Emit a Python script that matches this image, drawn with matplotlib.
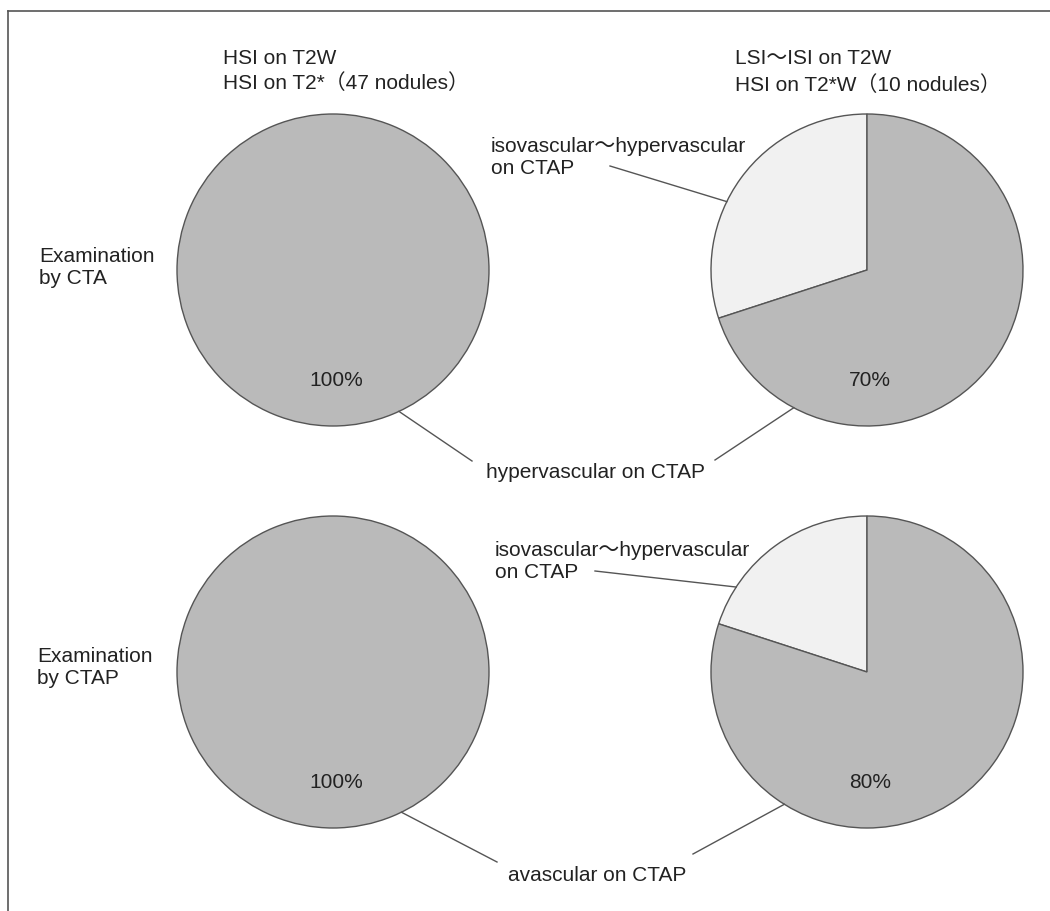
import numpy as np
import matplotlib
matplotlib.use("Agg")
import matplotlib.pyplot as plt

plt.rcParams['font.family'] = ['Liberation Sans', 'Noto Sans CJK JP', 'DejaVu Sans']

# data
group_titles = ["HSI on T2W\nHSI on T2*（47 nodules）",
                "LSI～ISI on T2W\nHSI on T2*W（10 nodules）"]
row_titles = ["Examination\nby CTA", "Examination\nby CTAP"]
cta_iso = [0, 30]          # isovascular~hypervascular on CTAP
cta_main = [100, 70]       # hypervascular on CTAP
ctap_iso = [0, 20]         # isovascular~hypervascular on CTAP
ctap_main = [100, 80]      # avascular on CTAP
iso_label = "isovascular～hypervascular\non CTAP"
main_labels = ["hypervascular on CTAP", "avascular on CTAP"]

W, H = 1050, 912
DARK = "#bababa"
LIGHT = "#f1f1f1"
EDGE = "#555555"
TXT = "#222222"
FS = 15

fig = plt.figure(figsize=(W / 100, H / 100), dpi=100)
ax = fig.add_axes([0, 0, 1, 1])


def Y(y):
    return H - y


col_x = [333, 867]
row_y = [271, 673]
R = 156


def edge_pt(cx, cy, ang):
    a = np.deg2rad(ang)
    return cx + R * np.cos(a), Y(cy) + R * np.sin(a)


rows = [(cta_iso, cta_main), (ctap_iso, ctap_main)]
for ri, (iso_vals, main_vals) in enumerate(rows):
    for ci in range(2):
        vals = [iso_vals[ci], main_vals[ci]]
        cols = [LIGHT, DARK]
        keep = [i for i, v in enumerate(vals) if v > 0]
        ax.pie([vals[i] for i in keep], colors=[cols[i] for i in keep],
               startangle=90, counterclock=True,
               center=(col_x[ci], Y(row_y[ri])), radius=R,
               wedgeprops=dict(edgecolor=EDGE, linewidth=1.0))
        ax.text(col_x[ci] + 3, Y(row_y[ri]) - 0.7 * R, f"{main_vals[ci]}%",
                ha='center', va='center', fontsize=FS, color=TXT)

# pie() resets the limits, so fix them afterwards
ax.set_xlim(0, W)
ax.set_ylim(0, H)
ax.set_aspect('equal')
ax.axis('off')

# frame
ax.plot([8, W], [Y(12), Y(12)], color=EDGE, lw=1.2, clip_on=False)
ax.plot([8, 8], [Y(12), 0], color=EDGE, lw=1.2, clip_on=False)

# column headers
ax.text(223, Y(71), group_titles[0], ha='left', va='center', fontsize=FS,
        color=TXT, linespacing=1.35)
ax.text(735, Y(72), group_titles[1], ha='left', va='center', fontsize=FS,
        color=TXT, linespacing=1.45)

# row headers
ax.text(39, Y(267), row_titles[0], ha='left', va='center', fontsize=FS, color=TXT)
ax.text(37, Y(668), row_titles[1], ha='left', va='center', fontsize=FS, color=TXT)

# iso labels with leaders
ax.text(491, Y(157), iso_label, ha='left', va='center', fontsize=FS, color=TXT)
ax.text(495, Y(561), iso_label, ha='left', va='center', fontsize=FS, color=TXT)
lc = dict(color=EDGE, lw=1.0)
x1, y1 = edge_pt(col_x[1], row_y[0], 154)
ax.plot([610, x1], [Y(167), y1], **lc)
x1, y1 = edge_pt(col_x[1], row_y[1], 147)
ax.plot([595, x1], [Y(572), y1], **lc)

# main labels with leaders
ax.text(595, Y(472), main_labels[0], ha='center', va='center', fontsize=FS, color=TXT)
ax.text(597, Y(876), main_labels[1], ha='center', va='center', fontsize=FS, color=TXT)
x1, y1 = edge_pt(col_x[0], row_y[0], -65)
ax.plot([472, x1], [Y(462), y1], **lc)
x1, y1 = edge_pt(col_x[1], row_y[0], -118)
ax.plot([715, x1], [Y(461), y1], **lc)
x1, y1 = edge_pt(col_x[0], row_y[1], -64)
ax.plot([497, x1], [Y(863), y1], **lc)
x1, y1 = edge_pt(col_x[1], row_y[1], -122)
ax.plot([693, x1], [Y(855), y1], **lc)

fig.savefig("out.png", dpi=100, facecolor='white')
